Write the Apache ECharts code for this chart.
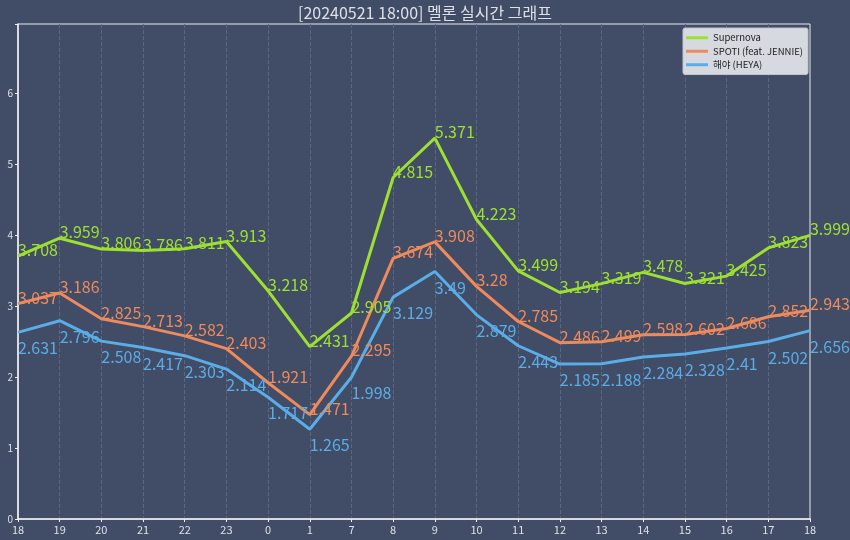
<!DOCTYPE html>
<html>
<head>
<meta charset="utf-8">
<script src="https://cdn.jsdelivr.net/npm/echarts@6/dist/echarts.min.js"></script>
<style>
html, body { margin: 0; padding: 0; background: #414c66; }
#chart { width: 850px; height: 540px; }
</style>
</head>
<body>
<div id="chart"></div>
<script>
// 시간 (x축)
const hours = ["18", "19", "20", "21", "22", "23", "0", "1", "7", "8", "9", "10", "11", "12", "13", "14", "15", "16", "17", "18"]
const supernova = [3.708, 3.959, 3.806, 3.786, 3.811, 3.913, 3.218, 2.431, 2.905, 4.815, 5.371, 4.223, 3.499, 3.194, 3.319, 3.478, 3.321, 3.425, 3.823, 3.999]
const spoti = [3.037, 3.186, 2.825, 2.713, 2.582, 2.403, 1.921, 1.471, 2.295, 3.674, 3.908, 3.28, 2.785, 2.486, 2.499, 2.598, 2.602, 2.686, 2.852, 2.943]
const heya = [2.631, 2.796, 2.508, 2.417, 2.303, 2.114, 1.717, 1.265, 1.998, 3.129, 3.49, 2.879, 2.443, 2.185, 2.188, 2.284, 2.328, 2.41, 2.502, 2.656]

const font = "'Noto Sans CJK KR', 'Noto Sans', sans-serif"

function makeLine(name, data, color, below) {
	return {
		name: name,
		type: "line",
		data: data,
		symbol: "circle",
		symbolSize: 0.1,
		itemStyle: { color: color },
		lineStyle: { color: color, width: 3 },
		label: {
			show: true,
			// 라벨 위치: 위쪽 / 아래쪽
			position: below ? [0, 16] : [0, -6],
			align: "left",
			verticalAlign: "middle",
			color: color,
			fontSize: 16,
			fontFamily: font,
		},
		labelLayout: { hideOverlap: false },
		emphasis: { disabled: true },
		animation: false,
	}
}

const myChart = echarts.init(document.getElementById("chart"))
const option = {
	backgroundColor: "#414c66",
	title: {
		text: "[20240521 18:00] 멜론 실시간 그래프",
		left: "center",
		top: 0,
		textStyle: { color: "#dde0e6", fontSize: 16, fontWeight: "normal", fontFamily: font },
	},
	legend: {
		orient: "vertical",
		right: 42,
		top: 28,
		icon: "rect",
		itemWidth: 22,
		itemHeight: 3,
		itemGap: 4,
		padding: [5, 5, 5, 3],
		backgroundColor: "#d6d9df",
		borderColor: "#bfc3cb",
		borderWidth: 1,
		borderRadius: 2,
		textStyle: { color: "#222", fontSize: 9.5, fontFamily: font },
		data: ["Supernova", "SPOTI (feat. JENNIE)", "해야 (HEYA)"],
	},
	grid: {
		left: 18,
		right: 40,
		top: 24,
		bottom: 21,
		show: true,
		borderColor: "#e8eaee",
		borderWidth: 1,
	},
	xAxis: {
		type: "category",
		data: hours,
		boundaryGap: false,
		axisLine: { lineStyle: { color: "#f0f0f0", width: 1.5 } },
		axisTick: { show: true, length: 3, lineStyle: { color: "#f0f0f0" } },
		axisLabel: { color: "#dde0e6", fontSize: 11, margin: 5, fontFamily: font },
		splitLine: {
			show: true,
			interval: (i) => i > 0 && i < hours.length - 1,
			lineStyle: { color: "#5c6680", type: "dashed", width: 1 },
		},
	},
	yAxis: {
		type: "value",
		min: 0,
		max: 6.98,
		interval: 1,
		axisLine: { show: true, lineStyle: { color: "#f0f0f0", width: 1.5 } },
		axisTick: { show: true, length: 3, lineStyle: { color: "#f0f0f0" } },
		axisLabel: {
			color: "#dde0e6",
			fontSize: 10,
			margin: 5,
			fontFamily: font,
			formatter: (v) => (Number.isInteger(v) ? v : ""),
		},
		splitLine: { show: false },
	},
	series: [
		makeLine("Supernova", supernova, "#9ee032", false),
		makeLine("SPOTI (feat. JENNIE)", spoti, "#ee8a5c", false),
		makeLine("해야 (HEYA)", heya, "#5aade6", true),
	],
}
myChart.setOption(option)
</script>
</body>
</html>
